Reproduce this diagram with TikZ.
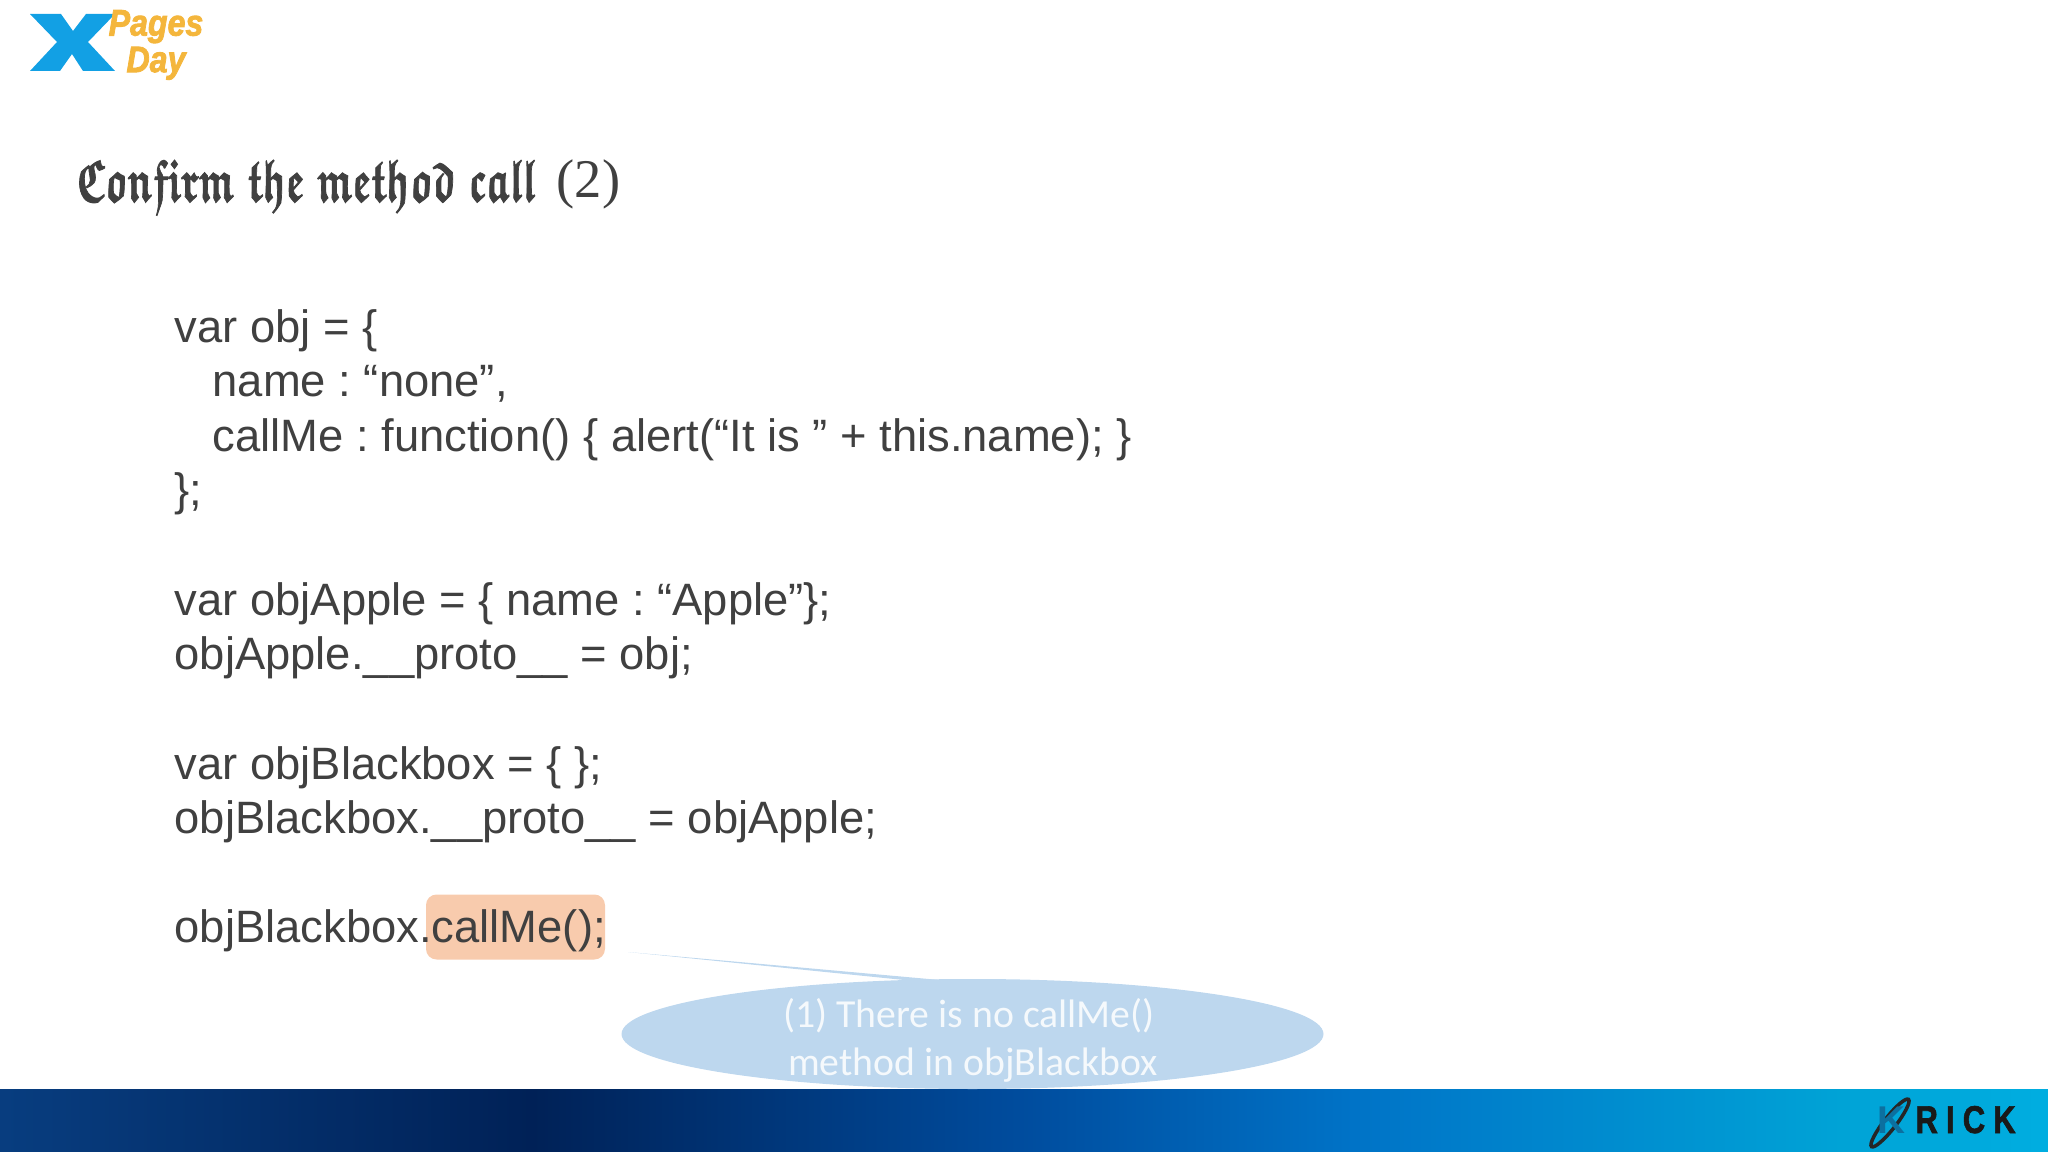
\documentclass[tikz,border=0pt]{standalone}
\usepackage{fontspec}
\usepackage{amsfonts}
\setmainfont{Liberation Sans}
\newfontfamily\calloutfont{Carlito}
\newfontfamily\titlefont{Liberation Serif}
\usetikzlibrary{shapes.geometric}
\definecolor{codegray}{HTML}{404040}
\definecolor{hlpeach}{HTML}{F8CBAD}
\definecolor{callblue}{HTML}{BDD7EE}
\definecolor{xblue}{HTML}{12A0E4}
\definecolor{pagesorange}{HTML}{F4B63C}
\newcommand{\heavytext}[2]{\special{pdf:code 2 Tr #1 w}#2\special{pdf:code 0 Tr 0.4 w}}
\pgfdeclarehorizontalshading{footerfade}{100bp}{
  rgb(0bp)=(0.03,0.24,0.50);
  rgb(25bp)=(0.03,0.24,0.50);
  rgb(38bp)=(0.00,0.13,0.34);
  rgb(50bp)=(0.00,0.30,0.62);
  rgb(58bp)=(0.00,0.45,0.78);
  rgb(70bp)=(0.00,0.64,0.84);
  rgb(75bp)=(0.00,0.68,0.88);
  rgb(100bp)=(0.00,0.68,0.88)}
\tikzset{
  codeline/.style={anchor=base west, inner sep=0pt, text=codegray, font=\fontsize{12.9}{16}\selectfont\frenchspacing},
  logotext/.style={inner sep=0pt, text=pagesorange, align=center, font=\fontsize{10.5}{7.6}\selectfont\bfseries\itshape},
}
\begin{document}
\begin{tikzpicture}[x=0.01cm, y=-0.01cm]
  \useasboundingbox (0,0) rectangle (2048,1152);
  % Footer
  \shade[shading=footerfade] (0,1089) rectangle (2048,1152);
  % Logo
  \fill[xblue] (30,14) -- (61,14) -- (73,31) -- (86,14) -- (115,14) -- (88,42) -- (115,71) -- (83,71) -- (72,54) -- (60,71) -- (30,71) -- (57,42) -- cycle;
  \node[logotext, xscale=0.87] (logo) at (156,45) {\heavytext{0.25}{Pages}\\\heavytext{0.25}{Day}};
  % Title
  \node[anchor=base west, inner sep=0pt, text=codegray, font=\fontsize{17}{20}\selectfont] (title) at (76,201) {\scalebox{0.645}[1]{\usefont{U}{euf}{b}{n}\heavytext{0.3}{Confirm the method call}}};
  \node[anchor=base west, inner sep=0pt, text=codegray, font=\titlefont\fontsize{15.5}{20}\selectfont] (titlenum) at (556,198) {(2)};
  % Highlight
  \node[fill=hlpeach, rounded corners=3pt, minimum width=179*0.01cm, minimum height=65*0.01cm, inner sep=0pt] (callbox) at (515.5,927) {};
  % Code
  \foreach \n/\cx/\cy/\t in {
    a/174/343/{var obj = \{},
    b/212/397/{name : “none”,},
    c/212/452/{callMe : function() \{ alert(“It is ” + this.name); \}},
    d/174/506/{\};},
    e/174/615.5/{var objApple = \{ name : “Apple”\};},
    f/174/669.5/{objApple.\_\_proto\_\_ = obj;},
    g/174/779/{var objBlackbox = \{ \};},
    h/174/833/{objBlackbox.\_\_proto\_\_ = objApple;},
    i/174/942/{objBlackbox.callMe();}} {
    \node[codeline] (line\n) at (\cx,\cy) {\t};
  }
  % Callout
  \coordinate (tailtip) at (628,952);
  \coordinate (tailA) at (914,981);
  \coordinate (tailB) at (951,981);
  \fill[callblue] (tailtip) -- (tailB) -- (tailA) -- cycle;
  \node[ellipse, fill=callblue, minimum width=702*0.01cm, minimum height=110*0.01cm, inner sep=0pt] (callout) at (972.5,1034) {};
  \node[text=white!85!callblue, inner sep=0pt, font=\calloutfont\fontsize{11.3}{13.6}\selectfont, align=center] (calltext) at (969,1040) {(1) There is no callMe()\\ \hspace*{2.2pt}method in objBlackbox};
  % Krick
  \draw[black!85, line width=1pt, rotate around={52:(1890,1123)}] (1890,1123) ellipse (30 and 6);
  \node[anchor=base west, inner sep=0pt, text=xblue!70!black, font=\fontsize{11}{12}\selectfont\bfseries] (krickK) at (1877,1133) {K};
  \node[anchor=base west, inner sep=0pt, text=black!90, xscale=0.8, font=\fontsize{11}{12}\selectfont\bfseries] (krick) at (1915,1133) {\heavytext{0.2}{R\kern2.9pt I\kern2.9pt C\kern2.9pt K}};
\end{tikzpicture}
\end{document}
